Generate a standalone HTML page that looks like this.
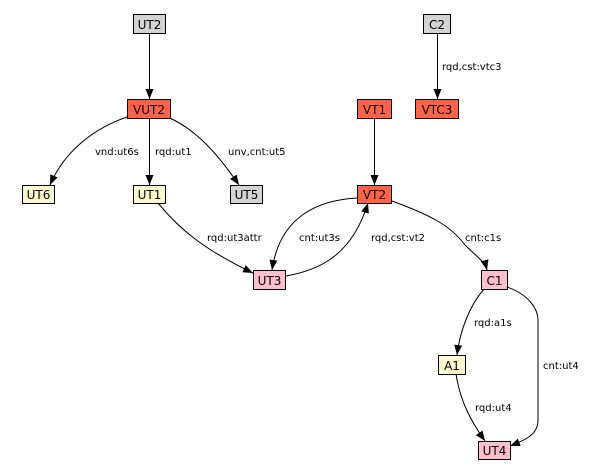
<!DOCTYPE html>
<html><head><meta charset="utf-8"><style>
html,body{margin:0;padding:0;background:#fff;}
svg{display:block;}
.n text{font-family:"DejaVu Sans","Liberation Sans",sans-serif;font-size:12px;text-anchor:middle;}
.l{font-family:"DejaVu Sans","Liberation Sans",sans-serif;font-size:10px;fill:#000;}
path.e{fill:none;stroke:#000;stroke-width:1;}
rect{stroke:#000;stroke-width:1;}
</style></head><body>
<svg width="601" height="473" viewBox="0 0 601 473" xmlns="http://www.w3.org/2000/svg">
<defs><marker id="a" markerWidth="10" markerHeight="8" refX="10" refY="4" orient="auto" markerUnits="userSpaceOnUse"><path d="M0,0 L10,4 L0,8 z" fill="#000"/></marker></defs>
<g>
<path class="e" d="M149.5,33 L149.5,99" marker-end="url(#a)"/>
<path class="e" d="M127,117 C95,128 65,150 50,185" marker-end="url(#a)"/>
<path class="e" d="M149.5,118 L149.5,185" marker-end="url(#a)"/>
<path class="e" d="M170,118 C195,130 215,150 239,185" marker-end="url(#a)"/>
<path class="e" d="M158,203 C180,230 205,250 253,273" marker-end="url(#a)"/>
<path class="e" d="M357,198 C320,200 280,215 272,270" marker-end="url(#a)"/>
<path class="e" d="M286,276 C320,270 352,255 368,203" marker-end="url(#a)"/>
<path class="e" d="M392,201 C430,215 450,225 465,245 C475,255 485,262 487,270" marker-end="url(#a)"/>
<path class="e" d="M484,289 C470,305 460,330 457,355" marker-end="url(#a)"/>
<path class="e" d="M507,287 C530,295 538,310 538,320 L538,420 C538,435 525,440 510,446" marker-end="url(#a)"/>
<path class="e" d="M456,374 C460,400 470,420 485,441" marker-end="url(#a)"/>
<path class="e" d="M374.5,118 L374.5,185" marker-end="url(#a)"/>
<path class="e" d="M437.5,33 L437.5,99" marker-end="url(#a)"/>
</g>
<g class="n">
<rect x="133.5" y="14.5" width="32" height="19" fill="#d3d3d3"/><text x="149.5" y="29">UT2</text>
<rect x="127.5" y="99.5" width="43" height="19" fill="#ff6347"/><text x="149" y="114">VUT2</text>
<rect x="22.5" y="185.5" width="32" height="18" fill="#fffacd"/><text x="38.5" y="199">UT6</text>
<rect x="133.5" y="185.5" width="32" height="18" fill="#fffacd"/><text x="149.5" y="199">UT1</text>
<rect x="230.5" y="185.5" width="32" height="18" fill="#d3d3d3"/><text x="246.5" y="199">UT5</text>
<rect x="253.5" y="270.5" width="32" height="19" fill="#ffc0cb"/><text x="269.5" y="285">UT3</text>
<rect x="423.5" y="14.5" width="27" height="19" fill="#d3d3d3"/><text x="437" y="29">C2</text>
<rect x="357.5" y="99.5" width="34" height="19" fill="#ff6347"/><text x="374.5" y="114">VT1</text>
<rect x="415.5" y="99.5" width="43" height="19" fill="#ff6347"/><text x="437" y="114">VTC3</text>
<rect x="357.5" y="185.5" width="34" height="18" fill="#ff6347"/><text x="374.5" y="199">VT2</text>
<rect x="481.5" y="270.5" width="26" height="19" fill="#ffc0cb"/><text x="494.5" y="285">C1</text>
<rect x="438.5" y="355.5" width="27" height="19" fill="#fffacd"/><text x="452" y="370">A1</text>
<rect x="478.5" y="441.5" width="32" height="18" fill="#ffc0cb"/><text x="494.5" y="455">UT4</text>
</g>
<g class="l">
<text x="442" y="70">rqd,cst:vtc3</text>
<text x="95" y="155">vnd:ut6s</text>
<text x="155" y="155">rqd:ut1</text>
<text x="228" y="155">unv,cnt:ut5</text>
<text x="207" y="241">rqd:ut3attr</text>
<text x="299" y="241">cnt:ut3s</text>
<text x="371" y="241">rqd,cst:vt2</text>
<text x="465" y="241">cnt:c1s</text>
<text x="474" y="326">rqd:a1s</text>
<text x="543" y="369">cnt:ut4</text>
<text x="475" y="411">rqd:ut4</text>
</g>
</svg>
</body></html>
